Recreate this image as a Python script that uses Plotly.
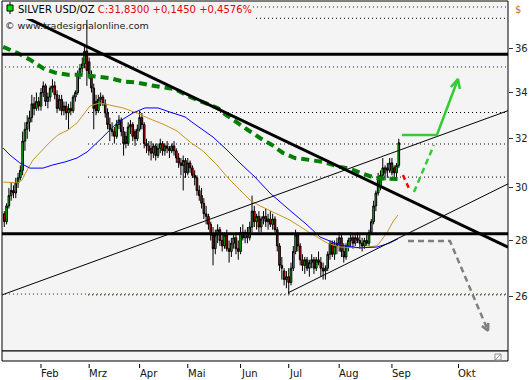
import math
import plotly.graph_objects as go

# ---------------- data ----------------
# bar number = trading-day index, 0 = 1 Feb 2012
first_bar = -16
opens = [29.0, 28.7, 29.3, 29.7, 29.9, 29.8, 30.2, 30.4, 30.7, 31.9, 32.4, 32.7, 32.9, 33.5, 33.3, 33.6,
         33.4, 34.0, 34.3, 33.6, 33.8, 34.2, 34.3, 33.9, 33.3, 33.7, 33.2, 33.4, 33.1, 33.3, 33.2, 33.8, 34.0, 34.8, 35.1, 35.3, 35.9,
         35.4, 34.8, 34.2, 33.6, 33.2, 33.7, 33.8, 33.5, 33.1, 32.6, 32.4, 32.3, 32.1, 32.6, 32.8, 32.3, 32.1, 31.8, 32.5, 32.6, 32.3, 32.0,
         32.4, 32.9, 32.6, 31.8, 31.7, 31.6, 31.4, 31.7, 31.3, 31.6, 31.8, 31.5, 31.7, 31.6, 31.5, 31.7, 31.5, 31.2, 31.0, 30.9, 31.1,
         30.6, 31.0, 30.8, 30.5, 30.4, 29.9, 29.7, 29.4, 29.0, 28.9, 28.6, 28.2, 27.7, 28.2, 28.4, 28.0, 27.8, 28.2, 27.7, 27.6, 27.9, 28.1, 27.7,
         27.6, 28.3, 28.1, 28.3, 28.1, 28.5, 29.1, 28.7, 28.9, 28.5, 28.8, 28.9, 28.7, 28.8, 28.6, 28.8, 28.4, 27.8, 27.1, 26.9, 26.6,
         26.7, 26.5, 27.0, 27.6, 28.2, 27.8, 27.3, 27.1, 27.3, 27.0, 27.2, 27.3, 27.0, 27.3, 27.2, 27.0, 26.9, 27.0, 27.5, 27.9, 27.5, 27.8,
         27.9, 28.1, 27.6, 27.4, 27.8, 28.0, 28.1, 27.9, 28.1, 28.0, 27.9, 27.8, 28.0, 27.9, 28.3, 28.7, 29.3, 29.8, 30.1, 30.5, 30.6, 30.8, 30.7,
         30.6, 30.8, 30.6, 30.9]
highs = [29.1, 29.4, 30.0, 30.2, 30.1, 30.4, 30.6, 30.9, 32.3, 32.7, 33.0, 33.2, 33.9, 33.8, 34.0, 33.8,
         34.2, 34.5, 34.4, 34.0, 34.3, 34.6, 34.5, 34.1, 33.9, 33.9, 33.6, 33.6, 33.5, 33.6, 33.9, 34.1, 35.0, 35.3, 35.6, 36.2, 37.4,
         35.6, 35.0, 34.4, 33.9, 33.9, 34.0, 33.9, 33.7, 33.3, 32.9, 32.7, 32.5, 32.8, 33.0, 32.9, 32.5, 32.3, 32.7, 32.8, 32.7, 32.4, 32.6,
         33.2, 33.1, 32.7, 32.0, 31.9, 31.9, 31.8, 31.8, 31.8, 32.0, 31.9, 31.8, 31.9, 31.7, 31.8, 31.9, 31.6, 31.4, 31.2, 31.3, 31.2,
         31.2, 31.1, 30.9, 30.7, 30.5, 30.1, 30.0, 29.6, 29.3, 29.0, 28.7, 28.5, 28.4, 28.6, 28.5, 28.3, 28.3, 28.4, 28.0, 28.1, 28.2, 28.3, 28.0,
         28.5, 28.6, 28.4, 28.5, 28.7, 29.7, 29.3, 29.0, 29.1, 28.9, 29.1, 29.2, 29.0, 29.1, 29.0, 28.9, 28.5, 27.9, 27.4, 27.0, 26.9,
         27.0, 27.2, 27.8, 28.4, 28.3, 27.9, 27.5, 27.4, 27.4, 27.3, 27.5, 27.4, 27.4, 27.6, 27.4, 27.2, 27.1, 27.6, 28.0, 28.0, 28.0, 28.1,
         28.3, 28.2, 27.9, 27.9, 28.1, 28.3, 28.2, 28.2, 28.3, 28.2, 28.1, 28.1, 28.2, 28.4, 28.8, 29.5, 29.9, 30.6, 30.7, 31.2, 30.9, 31.0, 31.2,
         31.2, 30.9, 31.0, 32.0]
lows = [28.5, 28.6, 29.2, 29.5, 29.6, 29.6, 30.0, 30.3, 30.5, 31.5, 32.0, 32.3, 32.7, 33.0, 33.2, 33.2,
        33.2, 33.8, 33.4, 33.3, 33.6, 34.0, 33.7, 33.1, 33.2, 33.0, 33.0, 32.8, 32.4, 33.0, 33.1, 33.6, 33.9, 34.6, 34.9, 35.1, 34.3,
        34.6, 34.0, 32.4, 33.0, 33.1, 33.4, 33.4, 32.9, 32.4, 31.9, 32.1, 31.8, 32.0, 32.4, 32.1, 31.3, 31.6, 31.7, 32.2, 31.9, 31.7, 31.9,
        32.3, 32.4, 31.6, 31.4, 31.3, 31.1, 31.2, 31.1, 31.2, 31.4, 31.3, 31.3, 31.4, 31.2, 31.4, 31.3, 31.0, 30.8, 30.5, 29.9, 30.4,
        30.5, 30.6, 30.4, 30.1, 29.7, 29.5, 29.2, 28.8, 28.6, 28.4, 28.0, 27.1, 27.5, 27.9, 27.8, 27.6, 27.7, 27.6, 27.2, 27.4, 27.7, 27.5, 27.3,
        27.5, 28.0, 27.9, 27.9, 28.0, 28.3, 28.5, 28.4, 28.3, 28.3, 28.6, 28.5, 28.4, 28.5, 28.4, 28.3, 27.6, 26.9, 26.6, 26.4, 26.3,
        26.1, 26.4, 26.9, 27.5, 27.6, 27.1, 26.9, 26.8, 26.9, 26.7, 27.0, 26.8, 26.9, 27.1, 26.7, 26.6, 26.6, 26.9, 27.3, 27.4, 27.3, 27.5,
        27.6, 27.4, 27.2, 27.3, 27.6, 27.8, 27.7, 27.8, 27.9, 27.7, 27.6, 27.7, 27.8, 27.8, 28.2, 28.6, 29.1, 29.7, 29.9, 30.3, 30.3, 30.4, 30.6,
        30.5, 30.3, 30.4, 30.8]
closes = [28.7, 29.3, 29.7, 29.9, 29.8, 30.2, 30.4, 30.7, 31.9, 32.4, 32.7, 32.9, 33.5, 33.3, 33.6, 33.4,
          34.0, 34.3, 33.6, 33.8, 34.2, 34.3, 33.9, 33.3, 33.7, 33.2, 33.4, 33.1, 33.3, 33.2, 33.8, 34.0, 34.8, 35.1, 35.3, 35.9, 35.0,
          34.8, 34.2, 33.3, 33.2, 33.7, 33.8, 33.5, 33.1, 32.6, 32.4, 32.3, 32.1, 32.6, 32.8, 32.3, 31.8, 31.8, 32.5, 32.6, 32.1, 32.0, 32.4,
          32.9, 32.6, 31.8, 31.7, 31.5, 31.4, 31.7, 31.3, 31.6, 31.8, 31.5, 31.7, 31.6, 31.5, 31.7, 31.5, 31.2, 31.0, 30.9, 31.1, 30.6,
          31.0, 30.8, 30.5, 30.4, 29.9, 29.7, 29.4, 29.0, 28.9, 28.6, 28.2, 27.7, 28.2, 28.4, 28.0, 27.8, 28.2, 27.7, 27.6, 27.9, 28.1, 27.7, 27.6,
          28.3, 28.1, 28.3, 28.1, 28.5, 29.1, 28.7, 28.9, 28.5, 28.8, 28.9, 28.7, 28.8, 28.6, 28.8, 28.4, 27.8, 27.1, 27.0, 26.6, 26.7,
          26.5, 27.0, 27.6, 28.2, 27.8, 27.3, 27.1, 27.3, 27.0, 27.2, 27.3, 27.0, 27.3, 27.2, 27.0, 26.9, 27.0, 27.5, 27.9, 27.5, 27.8, 27.9,
          28.1, 27.6, 27.4, 27.8, 28.0, 28.1, 27.9, 28.1, 28.0, 27.9, 27.8, 28.0, 27.9, 28.3, 28.7, 29.3, 29.8, 30.4, 30.5, 30.8, 30.8, 30.7, 31.0,
          31.0, 30.6, 30.9, 31.83]
bars = list(range(first_bar, first_bar + len(closes)))

# moving averages (bar, value)
ma200_x = [-16.5, -10.0, -4.8, 0.9, 6.1, 11.8, 17.9, 24.4, 30.1, 35.7, 41.8, 47.5, 53.2, 58.4, 65.0, 70.6, 77.2, 80.2,
           85.4, 90.2, 95.5, 100.7, 105.5, 110.7, 117.3, 122.9, 130.3, 134.7, 140.4, 145.6, 151.7, 155.6]
ma200_y = [36.1, 35.8, 35.5, 35.1, 34.9, 34.8, 34.8, 34.7, 34.65, 34.5, 34.45, 34.33, 34.24, 34.15, 33.8, 33.58, 33.31, 33.05,
           32.67, 32.37, 32.03, 31.74, 31.41, 31.2, 31.12, 31.04, 30.84, 30.76, 30.56, 30.40, 30.36, 30.35]
ma50_x = [-16.5, -13.5, -9.2, -4.8, 0.9, 5.2, 10.5, 15.7, 20.1, 25.7, 33.1, 40.1, 45.3, 51.0, 56.2, 62.8, 66.3, 75.0, 81.1,
          86.7, 93.3, 99.8, 108.5, 116.0, 121.6, 130.3, 139.1, 146.5, 152.1, 155.6]
ma50_y = [31.61, 31.32, 31.00, 30.79, 30.79, 30.92, 31.04, 31.20, 31.45, 31.95, 32.67, 33.10, 33.32, 33.32, 33.14, 32.93, 32.67,
          32.07, 31.53, 31.00, 30.43, 29.80, 29.13, 28.58, 28.13, 27.83, 27.73, 27.76, 27.91, 28.06]
ma20_x = [-16.5, -10.0, -8.3, -6.1, -3.5, 0.4, 3.9, 7.4, 11.8, 15.7, 19.2, 21.4, 25.7, 30.1, 35.7, 41.8, 46.6, 53.2, 59.3,
          65.0, 70.6, 76.7, 81.5, 86.7, 91.1, 95.5, 99.8, 108.5, 117.3, 124.7, 130.3, 139.1, 146.5, 150.8, 153.4, 155.6]
ma20_y = [30.23, 30.20, 30.31, 30.71, 31.12, 31.53, 31.86, 32.16, 32.37, 32.67, 33.10, 33.41, 33.54, 33.45, 33.32, 33.10, 32.88,
          32.62, 32.33, 31.86, 31.49, 30.92, 30.40, 29.92, 29.53, 29.30, 29.11, 28.76, 28.28, 27.91, 27.76, 27.73, 27.80, 28.28,
          28.69, 28.95]

# drawn trend lines (bar, price)
x_left, x_right = -17.0, 203.6
down_trend_y = [38.08, 27.76]
resistance_level = 35.75
support_level = 28.25
channel_upper_y = [26.07, 33.20]
channel_lower_x = [107.7, 203.6]
channel_lower_y = [26.14, 30.16]
blue_levels = [38.04, 35.16, 26.10]
blue_start = -15.7
fib_levels = [37.48, 33.12, 31.78, 30.43, 26.07]
fib_start = 20.5

# projections
bull_x = [157.4, 172.6, 181.8]
bull_y = [32.16, 32.16, 34.61]
bull_head_x = [178.7, 181.8, 182.6]
bull_head_y = [34.25, 34.61, 34.16]
bull_dash_x = [162.6, 171.3]
bull_dash_y = [29.84, 31.74]
dip_x = [157.8, 160.9]
dip_y = [30.51, 29.88]
bear_x = [160.0, 178.3, 194.9]
bear_y = [27.98, 27.98, 24.87]
bear_head_x = [192.2, 194.9, 195.0]
bear_head_y = [25.03, 24.87, 25.13]

month_names = ["Feb", "Mrz", "Apr", "Mai", "Jun", "Jul", "Aug", "Sep", "Okt"]
month_bars = [0, 21, 43, 64, 87, 108, 130, 153, 182]
price_ticks = [26, 28, 30, 32, 34, 36]
y_min, y_max = 24.22, 38.34

FONT = "DejaVu Sans"
W, H = 532, 380
ML, MR, MT, MB = 2, 24, 1, 29
PW, PH = W - ML - MR, H - MT - MB


def px_x(p):
    return (p - ML) / PW


def px_y(p):
    return (H - MB - p) / PH


fig = go.Figure()


def line(x, y, color, width, dash=None):
    fig.add_trace(go.Scatter(x=x, y=y, mode="lines", hoverinfo="skip", showlegend=False,
                             line=dict(color=color, width=width, dash=dash)))


# dotted levels (behind candles)
for lv in blue_levels:
    line([blue_start, x_right], [lv, lv], "#0000ff", 1, "1px,3px")
for lv in fib_levels:
    line([fib_start, x_right], [lv, lv], "#000000", 1, "1px,3px")

fig.add_trace(go.Candlestick(
    x=bars, open=opens, high=highs, low=lows, close=closes,
    increasing=dict(line=dict(color="#000000", width=1), fillcolor="#00e600"),
    decreasing=dict(line=dict(color="#000000", width=1), fillcolor="#e60000"),
    whiskerwidth=0, showlegend=False, hoverinfo="skip"))

line(ma20_x, ma20_y, "#c8961e", 1)
line(ma50_x, ma50_y, "#0000ff", 1)
line(ma200_x, ma200_y, "#008000", 4, "8px,5px")

line([x_left, x_right], down_trend_y, "#000000", 3)
line([x_left, x_right], [resistance_level] * 2, "#000000", 3)
line([x_left, x_right], [support_level] * 2, "#000000", 3)
line([x_left, x_right], channel_upper_y, "#000000", 1)
line(channel_lower_x, channel_lower_y, "#000000", 1)

line(bull_x, bull_y, "#33cc33", 2.5)
line(bull_head_x, bull_head_y, "#33cc33", 2.5)
line(bull_dash_x, bull_dash_y, "#33cc33", 2.5, "6px,4px")
line(dip_x, dip_y, "#ff0000", 2.5, "5px,4px")
line(bear_x, bear_y, "#808080", 2.5, "6px,4px")
line(bear_head_x, bear_head_y, "#808080", 2.5)

shapes = [
    # title backdrop
    dict(type="rect", xref="paper", yref="paper", x0=0, x1=px_x(253), y0=px_y(19), y1=1,
         fillcolor="#f4f4f4", line=dict(width=0), layer="above"),
    # plot frame and bottom strip
    dict(type="rect", xref="paper", yref="paper", x0=0, x1=1, y0=0, y1=1,
         line=dict(color="#000000", width=1), layer="above"),
    dict(type="rect", xref="paper", yref="paper", x0=0, x1=1, y0=px_y(361), y1=0,
         fillcolor="#f4f4f4", line=dict(color="#000000", width=1), layer="above"),
    dict(type="rect", xref="paper", yref="paper", x0=px_x(495), x1=px_x(501), y0=px_y(360), y1=px_y(354),
         fillcolor="#ffffff", line=dict(color="#909090", width=1), layer="above"),
    dict(type="line", xref="paper", yref="paper", x0=px_x(495), x1=px_x(501), y0=px_y(360), y1=px_y(354),
         line=dict(color="#909090", width=1), layer="above"),
    # legend icon
    dict(type="line", xref="paper", yref="paper", x0=px_x(10), x1=px_x(10), y0=px_y(14), y1=px_y(2),
         line=dict(color="#000000", width=1), layer="above"),
    dict(type="rect", xref="paper", yref="paper", x0=px_x(7), x1=px_x(13), y0=px_y(11), y1=px_y(5),
         fillcolor="#00e600", line=dict(color="#000000", width=1), layer="above"),
]
annotations = [
    dict(xref="paper", yref="paper", x=px_x(16), y=px_y(10), xanchor="left", yanchor="middle", showarrow=False,
         text="SILVER USD/OZ <span style='color:#e8000b'>C:31,8300 +0,1450 +0,4576%</span>",
         font=dict(family=FONT, size=10, color="#000000")),
    dict(xref="paper", yref="paper", x=px_x(3), y=px_y(25), xanchor="left", yanchor="middle", showarrow=False,
         text="© www.tradesignalonline.com", font=dict(family=FONT, size=9.5, color="#222222")),
    dict(xref="paper", yref="paper", x=px_x(513), y=px_y(10), xanchor="left", yanchor="middle", showarrow=False,
         text="$", font=dict(family=FONT, size=10, color="#c87800")),
]
for name, b in zip(month_names, month_bars):
    shapes.append(dict(type="line", xref="x", yref="paper", x0=b, x1=b, y0=px_y(368), y1=px_y(364),
                       line=dict(color="#000000", width=1)))
    annotations.append(dict(xref="x", yref="paper", x=b, y=px_y(373), xanchor="left", yanchor="middle",
                            showarrow=False, xshift=-2, text=name,
                            font=dict(family=FONT, size=10, color="#111111")))

fig.update_layout(
    width=W, height=H, margin=dict(l=ML, r=MR, t=MT, b=MB),
    paper_bgcolor="#ffffff", plot_bgcolor="#f4f4f4",
    showlegend=False, shapes=shapes, annotations=annotations,
    boxgap=0.0,
    xaxis=dict(range=[x_left, x_right], showticklabels=False, showgrid=False, zeroline=False,
               ticks="", rangeslider=dict(visible=False), fixedrange=True),
    yaxis=dict(type="log", side="right", range=[math.log10(y_min), math.log10(y_max)],
               tickvals=price_ticks, ticktext=[str(v) for v in price_ticks],
               ticks="outside", ticklen=4, tickcolor="#333333", showgrid=False, zeroline=False,
               showline=False, tickfont=dict(family=FONT, size=10, color="#222222"), fixedrange=True),
)

fig.write_html("out.html")
